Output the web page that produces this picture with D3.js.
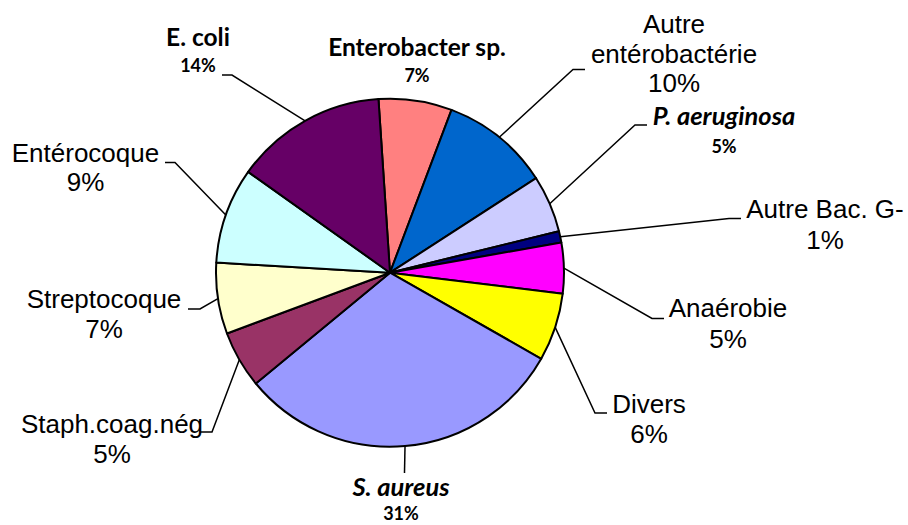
<!DOCTYPE html>
<html>
<head>
<meta charset="utf-8">
<script src="https://cdn.jsdelivr.net/npm/d3@7"></script>
<style>
  body { margin: 0; background: #fff; }
  svg { display: block; }
</style>
</head>
<body>
<svg id="SVG_CONTAINER" width="908" height="525"></svg>
<script>
// Data (share of isolates)
const categories = ["Enterobacter sp.", "Autre entérobactérie", "P. aeruginosa", "Autre Bac. G-", "Anaérobie",
                    "Divers", "S. aureus", "Staph.coag.nég", "Streptocoque", "Entérocoque", "E. coli"];
const values = [6.8, 10.1, 5.3, 1.06, 4.7, 6.3, 30.75, 5.3, 6.6, 8.9, 14.1];

// slice colours (old Excel palette)
const colors = ["#FF8080", "#0066CC", "#CCCCFF", "#000080", "#FF00FF",
                "#FFFF00", "#9999FF", "#993366", "#FFFFCC", "#CCFFFF", "#660066"];

// label layout: centre x, first baseline, percent baseline, leader elbow + end
const labelLayout = [
  {lines: ["Enterobacter sp."], font: "bold", cx: 417, y: 56, py: 82, leader: null},
  {lines: ["Autre", "entérobactérie"], font: "plain", cx: 674, y: 33, py: 92, leader: [[573, 69.5], [585, 69.5]]},
  {lines: ["P. aeruginosa"], font: "bolditalic", cx: 724, y: 125, py: 153, leader: [[635, 125], [647, 125]]},
  {lines: ["Autre Bac. G-"], font: "plain", cx: 825, y: 218, py: 249, leader: [[729, 218.5], [741, 218.5]]},
  {lines: ["Anaérobie"], font: "plain", cx: 728, y: 317, py: 348, leader: [[652, 318.5], [664, 318.5]]},
  {lines: ["Divers"], font: "plain", cx: 649, y: 413, py: 443, leader: [[595, 413], [607, 413]]},
  {lines: ["S. aureus"], font: "bolditalic", cx: 401, y: 496, py: 520, leader: [[404.5, 473], [404.5, 473]]},
  {lines: ["Staph.coag.nég"], font: "plain", cx: 112, y: 433, py: 463, leader: [[212, 432], [200, 432]]},
  {lines: ["Streptocoque"], font: "plain", cx: 104, y: 308, py: 338, leader: [[200, 309], [188, 309]]},
  {lines: ["Entérocoque"], font: "plain", cx: 85.5, y: 162, py: 191, leader: [[175, 162.5], [165, 162.5]]},
  {lines: ["E. coli"], font: "bold", cx: 198, y: 46, py: 72, leader: [[232, 75], [222, 75]]}
];

const cx = 390, cy = 272.7, radius = 174;
const startAngle = -3.8 * Math.PI / 180;

let svg = d3.select("#SVG_CONTAINER");
let total = d3.sum(values);

let pie = d3.pie()
    .sort(null)
    .value(d => d)
    .startAngle(startAngle)
    .endAngle(startAngle + 2 * Math.PI);

let arc = d3.arc()
    .innerRadius(0)
    .outerRadius(radius);

let arcs = pie(values);

let chart = svg.append("g")
    .attr("transform", "translate(" + cx + "," + cy + ")");

// slices
chart.selectAll("path.slice")
    .data(arcs)
    .join("path")
    .attr("class", "slice")
    .attr("d", arc)
    .attr("fill", (d, i) => colors[i])
    .attr("stroke", "#000")
    .attr("stroke-width", 2)
    .attr("stroke-linejoin", "round");

// leader lines, from the rim at the slice mid angle
arcs.forEach(function (d, i) {
  let lay = labelLayout[i];
  if (!lay.leader) return;
  let mid = (d.startAngle + d.endAngle) / 2;
  let x0 = cx + radius * Math.sin(mid),
      y0 = cy - radius * Math.cos(mid);
  svg.append("path")
    .attr("d", d3.line()([[x0, y0], lay.leader[0], lay.leader[1]]))
    .attr("fill", "none")
    .attr("stroke", "#000")
    .attr("stroke-width", 1.5);
});

// labels
const fonts = {
  plain: {family: "'Liberation Sans', Arial, sans-serif", size: 26, psize: 26, weight: "normal", style: "normal"},
  bold: {family: "Lato, 'Open Sans', sans-serif", size: 24.5, psize: 18, weight: "bold", style: "normal"},
  bolditalic: {family: "Lato, 'Open Sans', sans-serif", size: 25.5, psize: 18, weight: "bold", style: "italic"}
};

labelLayout.forEach(function (lay, i) {
  let f = fonts[lay.font];
  let g = svg.append("g").attr("class", "label");
  lay.lines.forEach(function (line, k) {
    g.append("text")
      .attr("x", lay.cx)
      .attr("y", lay.y + k * 29.5)
      .attr("text-anchor", "middle")
      .style("font-family", f.family)
      .style("font-size", f.size + "px")
      .style("font-weight", f.weight)
      .style("font-style", f.style)
      .text(line);
  });
  g.append("text")
    .attr("x", lay.cx)
    .attr("y", lay.py)
    .attr("text-anchor", "middle")
    .style("font-family", f.family)
    .style("font-size", f.psize + "px")
    .style("font-weight", f.weight)
    .text(Math.round(values[i] / total * 100) + "%");
});
</script>
</body>
</html>
